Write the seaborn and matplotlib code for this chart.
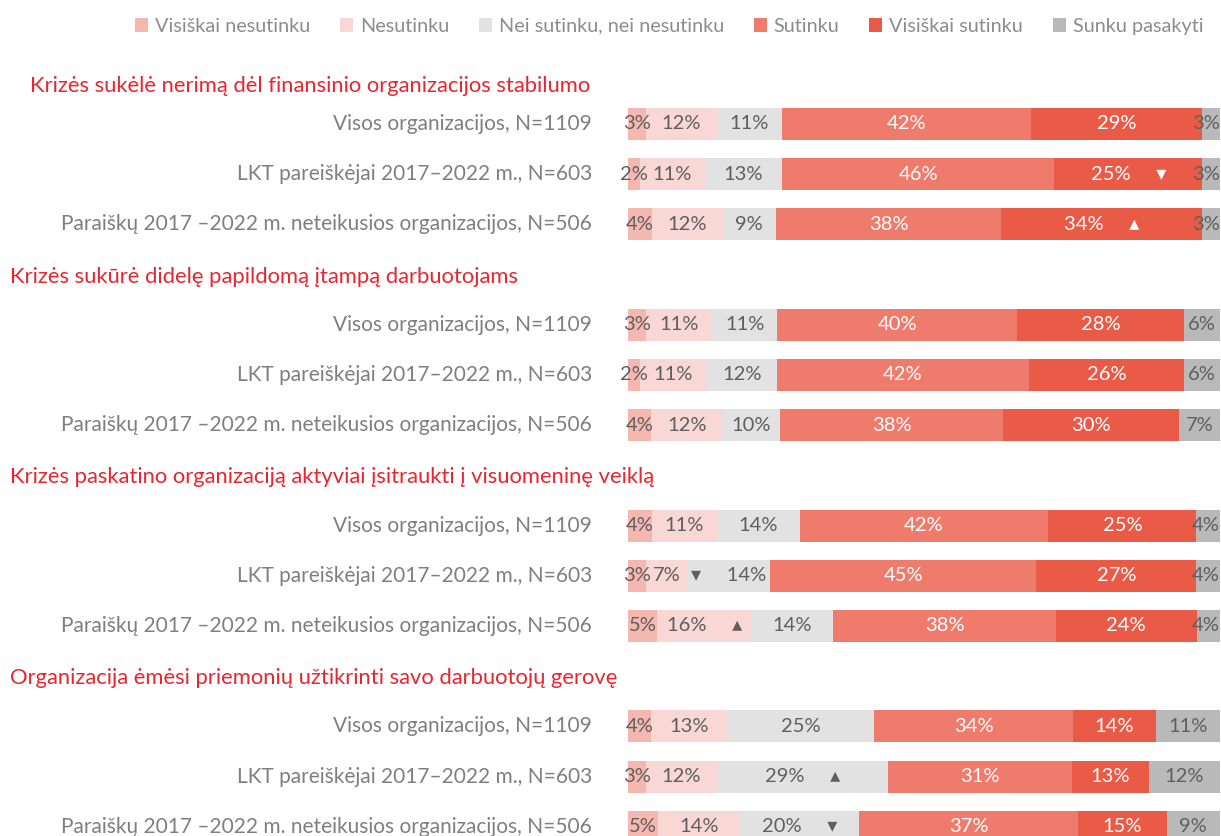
import pandas as pd
import seaborn as sns
import matplotlib.pyplot as plt
import matplotlib.transforms as mtransforms
from matplotlib.patches import Patch

# ====== Data ======
categories = ["Visiškai nesutinku", "Nesutinku", "Nei sutinku, nei nesutinku",
              "Sutinku", "Visiškai sutinku", "Sunku pasakyti"]
colors = ["#f4b8b1", "#f9d7d4", "#e2e2e2", "#ef7b6c", "#e95b47", "#b9b9b9"]
label_colors = ["#5f5f5f", "#5f5f5f", "#5f5f5f", "white", "white", "#5f5f5f"]

statements = [
    "Krizės sukėlė nerimą dėl finansinio organizacijos stabilumo",
    "Krizės sukūrė didelę papildomą įtampą darbuotojams",
    "Krizės paskatino organizaciją aktyviai įsitraukti į visuomeninę veiklą",
    "Organizacija ėmėsi priemonių užtikrinti savo darbuotojų gerovę",
]
groups = ["Visos organizacijos, N=1109",
          "LKT pareiškėjai 2017–2022 m., N=603",
          "Paraiškų 2017 –2022 m. neteikusios organizacijos, N=506"]

stab_all = [3, 12, 11, 42, 29, 3]
stab_lkt = [2, 11, 13, 46, 25, 3]
stab_non = [4, 12, 9, 38, 34, 3]
itamp_all = [3, 11, 11, 40, 28, 6]
itamp_lkt = [2, 11, 12, 42, 26, 6]
itamp_non = [4, 12, 10, 38, 30, 7]
veikl_all = [4, 11, 14, 42, 25, 4]
veikl_lkt = [3, 7, 14, 45, 27, 4]
veikl_non = [5, 16, 14, 38, 24, 4]
gerov_all = [4, 13, 25, 34, 14, 11]
gerov_lkt = [3, 12, 29, 31, 13, 12]
gerov_non = [5, 14, 20, 37, 15, 9]

values = [[stab_all, stab_lkt, stab_non],
          [itamp_all, itamp_lkt, itamp_non],
          [veikl_all, veikl_lkt, veikl_non],
          [gerov_all, gerov_lkt, gerov_non]]

# significance markers: (statement, group) -> (segment, symbol, symbol first?)
markers = {(0, 1): (4, "▾", False), (0, 2): (4, "▴", False),
           (2, 1): (2, "▾", True), (2, 2): (1, "▴", False),
           (3, 1): (2, "▴", False), (3, 2): (2, "▾", False)}

# ====== Long table with cumulative shares ======
rows = []
for g, block in enumerate(values):
    for r, vals in enumerate(block):
        total = sum(vals)
        cum = 0
        for c, v in zip(categories, vals):
            cum += v / total * 100
            rows.append({"pos": g * 4 + r, "cat": c, "cum": cum, "val": v})
df = pd.DataFrame(rows)

sns.set_theme(style="white")
plt.rcParams["font.family"] = ["Lato", "DejaVu Sans"]

fig = plt.figure(figsize=(12.21, 8.36), dpi=100)
ax = fig.add_axes([628 / 1221, -15.9 / 836, 592 / 1221, 803.2 / 836])

sns.barplot(data=df, x="cum", y="pos", hue="cat", orient="y", native_scale=True,
            hue_order=categories[::-1], palette=dict(zip(categories, colors)),
            dodge=False, width=0.64, linewidth=0, saturation=1, legend=False, ax=ax)

ax.set_xlim(0, 100)
ax.set_ylim(14.5, -1.5)
ax.axis("off")

# ====== Labels ======
fs = 14.5
for g, block in enumerate(values):
    for r, vals in enumerate(block):
        y = g * 4 + r
        total = sum(vals)
        left = 0
        mk = markers.get((g, r))
        for i, v in enumerate(vals):
            w = v / total * 100
            txt = f"{v}%"
            if mk and mk[0] == i:
                txt = f"{mk[1]}     {v}%" if mk[2] else f"{v}%     {mk[1]}"
            x, ha = left + w / 2, "center"
            if i == len(vals) - 1 and w < 5:
                x, ha = 100, "right"
            ax.text(x, y, txt, ha=ha, va="center",
                    fontsize=fs, color=label_colors[i], clip_on=False)
            left += w

trans = mtransforms.blended_transform_factory(fig.transFigure, ax.transData)
for g, st in enumerate(statements):
    hx = 30 / 1221 if g == 0 else 10 / 1221
    hy = g * 4 - (0.76 if g == 0 else 0.96)
    ax.text(hx, hy, st, transform=trans, ha="left", va="center",
            fontsize=15.8, color="#e8262f", clip_on=False)
    for r, name in enumerate(groups):
        ax.text(592 / 1221, g * 4 + r, name, transform=trans, ha="right",
                va="center", fontsize=15, color="#7f7f7f", clip_on=False)

handles = [Patch(facecolor=c, edgecolor="none") for c in colors]
fig.legend(handles, categories, loc="upper right", bbox_to_anchor=(1.0, 1.0),
           ncol=6, frameon=False, fontsize=14.3, handlelength=0.65, handleheight=0.65,
           handletextpad=0.35, columnspacing=1.5, labelcolor="#8c8c8c")

fig.savefig("out.png", dpi=100)
